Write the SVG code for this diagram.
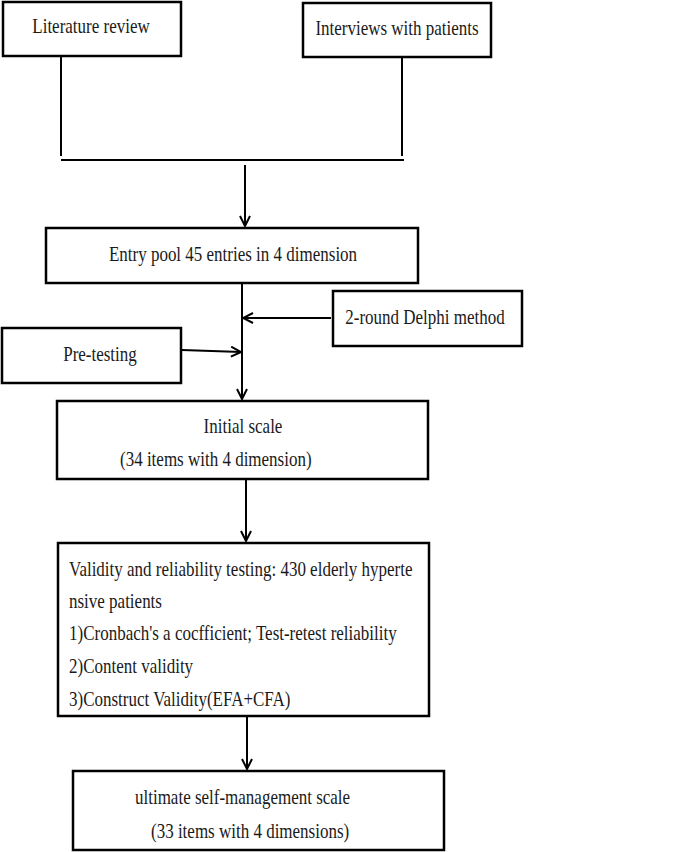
<svg xmlns="http://www.w3.org/2000/svg" width="685" height="852" viewBox="0 0 685 852">
<style>
.box{fill:#fff;stroke:#000;stroke-width:2.5}
.ln{fill:none;stroke:#000;stroke-width:2}
.t{font-family:"Liberation Serif","Times New Roman",serif;font-size:17px;fill:#1a1a1a}
.c{text-anchor:middle}
</style>
<defs>
<marker id="ah" viewBox="0 0 12 12" refX="11" refY="6" markerWidth="12" markerHeight="12" markerUnits="userSpaceOnUse" orient="auto">
<path d="M1,1 L11,6 L1,11" fill="none" stroke="#000" stroke-width="2"/>
</marker>
</defs>
<g id="connectors">
<path class="ln" d="M61,57 V156"/>
<path class="ln" d="M402,57 V156"/>
<path class="ln" d="M61,160 H404"/>
<path class="ln" d="M245,165 V226" marker-end="url(#ah)"/>
<path class="ln" d="M242,283 V399" marker-end="url(#ah)"/>
<path class="ln" d="M331,318 H243" marker-end="url(#ah)"/>
<path class="ln" d="M182,350 L241,352" marker-end="url(#ah)"/>
<path class="ln" d="M246,479 V541" marker-end="url(#ah)"/>
<path class="ln" d="M247,716 V769" marker-end="url(#ah)"/>
</g>
<g id="n-literature">
<rect class="box" x="3" y="2" width="178" height="54"/>
<text class="t c" transform="translate(91 33) scale(1 1.2)">Literature review</text>
</g>
<g id="n-interviews">
<rect class="box" x="303" y="3" width="188" height="54"/>
<text class="t c" transform="translate(397 35) scale(1 1.2)">Interviews with patients</text>
</g>
<g id="n-entrypool">
<rect class="box" x="46" y="228" width="372" height="55"/>
<text class="t c" transform="translate(233 261) scale(1 1.2)">Entry pool 45 entries in 4 dimension</text>
</g>
<g id="n-delphi">
<rect class="box" x="333" y="291" width="189" height="55"/>
<text class="t c" transform="translate(425 324) scale(1 1.2)">2-round Delphi method</text>
</g>
<g id="n-pretesting">
<rect class="box" x="2" y="328" width="179" height="55"/>
<text class="t c" transform="translate(100 361) scale(1 1.2)">Pre-testing</text>
</g>
<g id="n-initial">
<rect class="box" x="57" y="401" width="371" height="78"/>
<text class="t c" transform="translate(243 433) scale(1 1.2)">Initial scale</text>
<text class="t" transform="translate(120 466) scale(1 1.2)">(34 items with 4 dimension)</text>
</g>
<g id="n-validity">
<rect class="box" x="58" y="543" width="371" height="173"/>
<text class="t" transform="translate(69 576) scale(1 1.2)">Validity and reliability testing: 430 elderly hyperte</text>
<text class="t" transform="translate(69 608) scale(1 1.2)">nsive patients</text>
<text class="t" transform="translate(69 640) scale(1 1.2)">1)Cronbach's a cocfficient; Test-retest reliability</text>
<text class="t" transform="translate(69 673) scale(1 1.2)">2)Content validity</text>
<text class="t" transform="translate(69 706) scale(1 1.2)">3)Construct Validity(EFA+CFA)</text>
</g>
<g id="n-ultimate">
<rect class="box" x="73" y="771" width="371" height="79"/>
<text class="t" transform="translate(135 804) scale(1 1.2)">ultimate self-management scale</text>
<text class="t" transform="translate(151 838) scale(1 1.2)">(33 items with 4 dimensions)</text>
</g>
</svg>
